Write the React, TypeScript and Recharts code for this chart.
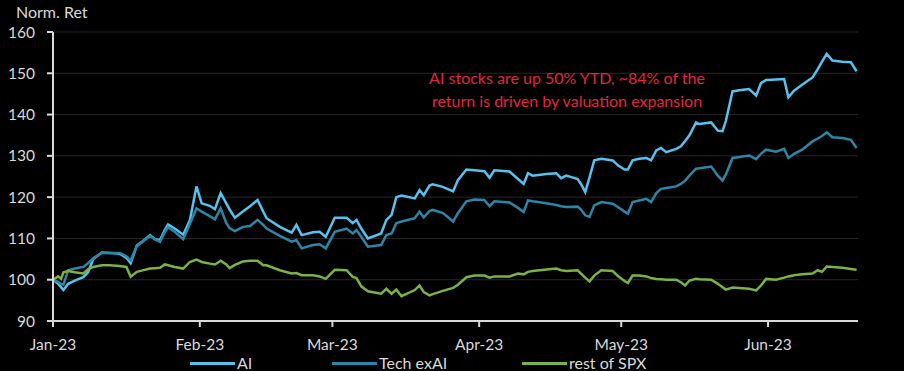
import React from 'react';
import { LineChart, Line, XAxis, YAxis, CartesianGrid } from 'recharts';

// x = days since 1 Jan 2023
const days = [
  0, 1.1, 1.7, 2.2, 3.2, 4.6, 6.4, 7.4, 8.5, 10.3, 12.0, 14.1, 15.5, 16.4, 17.7, 18.7, 20.5, 21.5, 22.6, 23.6,
  24.3, 25.7, 27.5, 28.9, 30.3, 31.4, 33.1, 34.2, 35.4, 36.6, 37.3, 38.4, 40.1, 41.6, 43.2, 44.4, 45.1, 47.9, 50.4, 51.4,
  52.5, 54.9, 56.3, 57.6, 59.5, 62.0, 63.3, 64.1, 65.1, 66.5, 69.3, 70.4, 71.5, 72.5, 73.6, 76.4, 77.4, 78.3, 79.5, 80.2,
  82.3, 84.5, 85.5, 87.3, 89.0, 91.1, 92.2, 93.2, 96.4, 98.2, 99.4, 100.3, 101.3, 104.2, 106.3, 107.3, 108.4, 110.8, 111.5, 112.4,
  113.3, 114.3, 115.8, 118.2, 119.3, 120.7, 121.4, 122.4, 123.8, 125.3, 126.3, 127.4, 128.4, 129.5, 131.6, 132.6, 133.5, 134.4, 135.8, 136.5,
  139.0, 140.4, 141.4, 142.1, 143.5, 144.9, 147.0, 148.5, 149.5, 150.6, 152.7, 154.4, 155.3, 156.5, 158.2, 160.4, 161.5, 162.4, 163.4, 164.6,
  166.7, 168.5, 169.7,
];

const aiValues = [
  100, 99, 98.2, 97.5, 99, 99.8, 100.6, 101.8, 105, 106.6, 106.5, 106.3, 105.3, 104, 108.3, 109.1, 110.8, 109.8, 109.6, 112,
  113.4, 112.4, 110.9, 114.4, 122.6, 118.5, 117.9, 117.1, 121, 118.5, 117, 115, 116.5, 117.8, 119.3, 116.5, 114.9, 112.8, 111.4, 113.3,
  110.8, 111.5, 111.6, 110.4, 115, 115, 113.7, 114.5, 112.4, 110, 111.2, 114.5, 115.7, 120, 120.4, 119.7, 121.7, 120.5, 122.8, 123.1,
  122.5, 121.4, 124.1, 126.7, 126.5, 126.3, 124.7, 126.5, 126.2, 124.4, 123.2, 125.8, 125.2, 125.6, 125.8, 124.6, 125.2, 124.4, 123.2, 121.2,
  124.8, 128.9, 129.3, 128.9, 127.7, 126.7, 126.7, 128.9, 129.3, 129.5, 128.9, 131.3, 131.9, 130.9, 131.7, 132.3, 133.6, 135, 138.1, 137.7,
  138.1, 136.1, 136, 138.5, 145.6, 145.9, 146.2, 144.6, 147.6, 148.4, 148.5, 148.6, 144.2, 145.8, 147.2, 149, 151, 152.8, 154.7, 153.1,
  152.8, 152.7, 150.5,
];

const techValues = [
  100, 99.4, 99, 98.8, 102.3, 102.7, 103.1, 104, 105.2, 106.5, 106.5, 106.5, 105.7, 104.7, 108.1, 109, 110.6, 109.8, 109.2, 111.5,
  112.7, 111.6, 109.8, 113.5, 117.3, 116.5, 115.4, 114.6, 117.3, 113.7, 112.5, 111.8, 112.8, 113, 114.5, 113.3, 112.4, 110.6, 109.2, 109.6,
  107.6, 108.4, 108.6, 107.6, 111.6, 112.4, 111.2, 112, 110.4, 108, 108.4, 110.8, 111.2, 113.7, 114.1, 114.9, 116.5, 115.1, 116.6, 116.9,
  116.2, 114.1, 116.1, 119, 119.4, 119.3, 117.8, 119, 118.7, 117.4, 116.4, 119.2, 119, 118.5, 118.1, 117.8, 117.6, 117.7, 117, 115.6,
  115.2, 118, 118.8, 118.4, 117.6, 116.5, 116, 118.8, 119.2, 119.6, 118.8, 121, 122, 122.2, 122.6, 123.2, 124, 125.2, 126.9, 127,
  127.4, 125.2, 124, 125.5, 129.5, 129.7, 130.1, 129.2, 130.5, 131.5, 131, 131.7, 129.5, 130.5, 131.5, 133.5, 134.2, 134.8, 135.7, 134.5,
  134.3, 133.9, 131.9,
];

const spxValues = [
  100, 100.8, 100.2, 101.8, 102.1, 101.8, 101.5, 102.5, 103.1, 103.5, 103.5, 103.3, 103.1, 100.7, 101.9, 102.2, 102.7, 102.8, 102.9, 103.7,
  103.5, 103.1, 102.7, 104.3, 104.9, 104.3, 103.9, 103.7, 104.6, 103.7, 102.8, 103.6, 104.4, 104.6, 104.6, 103.5, 103.5, 102.3, 101.5, 101.6,
  101.1, 101.1, 100.8, 100.2, 102.4, 102.3, 100.7, 100.4, 98.4, 97.2, 96.6, 97.8, 96.6, 97.6, 96, 97.5, 98.6, 97, 96.2, 96.5,
  97.3, 98, 98.8, 100.6, 101, 101, 100.5, 100.8, 100.8, 101.5, 101.3, 101.9, 102.1, 102.5, 102.7, 102.3, 102.1, 102.3, 101.5, 100.5,
  99.6, 101, 102.3, 102.1, 100.9, 99.7, 99.2, 101, 101, 100.8, 100.4, 100.2, 100.1, 100, 100, 99.4, 98.6, 99.8, 100.2, 100.1,
  100, 99, 98.2, 97.6, 98.1, 98, 97.8, 97.4, 98.6, 100.2, 100, 100.5, 100.8, 101.1, 101.3, 101.5, 102.3, 101.9, 103.2, 103.1,
  102.9, 102.6, 102.4,
];

const monthTicks = [0, 31, 59, 90, 120, 151];
const monthLabels = ['Jan-23', 'Feb-23', 'Mar-23', 'Apr-23', 'May-23', 'Jun-23'];
const yTicks = [90, 100, 110, 120, 130, 140, 150, 160];
const seriesNames = ['AI', 'Tech exAI', 'rest of SPX'];
const seriesColors = ['#56c2ee', '#2b86a8', '#7ab243'];
const yAxisTitle = 'Norm. Ret';
const annotationLines = ['AI stocks are up 50% YTD, ~84% of the', 'return is driven by valuation expansion'];

const data = days.map((d, i) => ({ d, ai: aiValues[i], tech: techValues[i], spx: spxValues[i] }));
const seriesKeys = ['ai', 'tech', 'spx'];

const FONT = "Lato, 'Open Sans', sans-serif";
const AXIS = '#d9d9d9';
const legendX = [190, 332, 522];

export default function App() {
  return (
    <div style={{ position: 'absolute', left: 0, top: 0, width: 904, height: 371, background: '#000', fontFamily: FONT, overflow: 'hidden' }}>
      <LineChart width={904} height={371} data={data} margin={{ top: 32, right: 46, bottom: 20, left: 0 }}>
        <CartesianGrid horizontal vertical={false} stroke="#262626" strokeWidth={1} />
        <XAxis
          dataKey="d"
          type="number"
          domain={[0, 170]}
          ticks={monthTicks}
          tickFormatter={(v) => monthLabels[monthTicks.indexOf(v)] ?? ''}
          height={30}
          stroke={AXIS}
          strokeWidth={2}
          tickSize={6}
          tickMargin={12}
          tick={{ fill: AXIS, fontSize: 15.5, fontFamily: FONT }}
          interval={0}
        />
        <YAxis
          type="number"
          domain={[90, 160]}
          ticks={yTicks}
          width={53}
          stroke={AXIS}
          strokeWidth={2}
          tickSize={6}
          tickMargin={12}
          tick={{ fill: AXIS, fontSize: 15.5, fontFamily: FONT }}
          interval={0}
        />
        {seriesKeys.map((k, i) => (
          <Line
            key={k}
            dataKey={k}
            name={seriesNames[i]}
            stroke={seriesColors[i]}
            strokeWidth={2.5}
            dot={false}
            type="linear"
            isAnimationActive={false}
          />
        ))}
      </LineChart>
      <div style={{ position: 'absolute', left: 16, top: 2, color: AXIS, fontSize: 16, lineHeight: '20px', whiteSpace: 'nowrap' }}>{yAxisTitle}</div>
      <div style={{ position: 'absolute', left: 417, top: 66, width: 300, textAlign: 'center', color: '#e3253d', fontSize: 16, lineHeight: '23px', whiteSpace: 'nowrap' }}>
        {annotationLines.map((t) => (
          <div key={t}>{t}</div>
        ))}
      </div>
      {seriesNames.map((n, i) => (
        <div key={n} style={{ position: 'absolute', left: legendX[i], top: 353, height: 20, display: 'flex', alignItems: 'center', whiteSpace: 'nowrap' }}>
          <div style={{ width: 45, height: 3, background: seriesColors[i], marginRight: 2 }} />
          <span style={{ color: AXIS, fontSize: 16, lineHeight: '20px' }}>{n}</span>
        </div>
      ))}
    </div>
  );
}
